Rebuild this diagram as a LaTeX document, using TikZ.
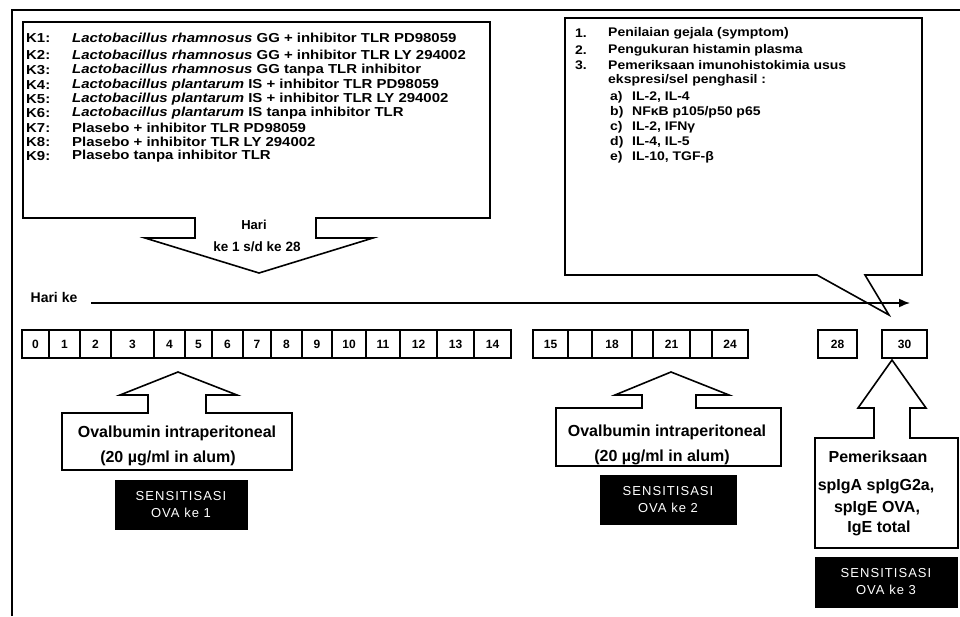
\documentclass[tikz,border=0pt]{standalone}
\usepackage{fontspec}
\setmainfont{Liberation Sans}
\usetikzlibrary{arrows.meta}
\begin{document}
\begin{tikzpicture}[x=1pt,y=-1pt,
  frame/.style={line width=1.6pt,line join=miter},
  listtxt/.style={anchor=west,inner sep=0pt,
    font=\bfseries\fontsize{13}{13}\selectfont\addfontfeature{FakeStretch=1.15}},
  rlisttxt/.style={anchor=west,inner sep=0pt,
    font=\bfseries\fontsize{12.5}{12.5}\selectfont\addfontfeature{FakeStretch=1.12}},
  boxtxt/.style={inner sep=0pt,font=\bfseries\fontsize{16}{16}\selectfont},
  daycell/.style={draw,line width=1.3pt,minimum height=28pt,inner sep=0pt,font=\bfseries\fontsize{12}{12}\selectfont},
  sensbox/.style={fill=black,text=white,align=center,inner sep=0pt,minimum height=50pt,
    font=\fontsize{13}{17}\selectfont\addfontfeature{LetterSpace=8}}]
\useasboundingbox (0,0) rectangle (960,616);
% outer frame
\draw[frame] (12,616) -- (12,10) -- (960,10);
% left callout with the treatment groups
\draw[frame] (23,22) -- (490,22) -- (490,218) -- (316,218) -- (316,238) -- (373,238)
  -- (259,273) -- (145,238) -- (195,238) -- (195,218) -- (23,218) -- cycle;
\foreach \lab/\txt/\y [count=\n] in {
  K1:/{\textit{Lactobacillus rhamnosus} GG + inhibitor TLR PD98059}/38,
  K2:/{\textit{Lactobacillus rhamnosus} GG + inhibitor TLR LY 294002}/55,
  K3:/{\textit{Lactobacillus rhamnosus} GG tanpa TLR inhibitor}/70,
  K4:/{\textit{Lactobacillus plantarum} IS + inhibitor TLR PD98059}/85,
  K5:/{\textit{Lactobacillus plantarum} IS + inhibitor TLR LY 294002}/99,
  K6:/{\textit{Lactobacillus plantarum} IS tanpa inhibitor TLR}/113,
  K7:/{Plasebo + inhibitor TLR PD98059}/128,
  K8:/{Plasebo + inhibitor TLR LY 294002}/142,
  K9:/{Plasebo tanpa inhibitor TLR}/156}{
  \node[listtxt] (klab\n) at (26,\y) {\lab};
  \node[listtxt] (ktxt\n) at (72,\y) {\txt};
}
\node[boxtxt,font=\bfseries\fontsize{13}{13}\selectfont] (hari) at (254,225) {Hari};
\node[boxtxt,font=\bfseries\fontsize{13.5}{13.5}\selectfont] (sampai) at (257,247) {ke 1 s/d ke 28};
% right callout with the examinations
\draw[frame] (565,18) -- (922,18) -- (922,275) -- (865,275) -- (889,315) -- (817,275)
  -- (565,275) -- cycle;
\node[rlisttxt] (n1) at (575,33) {1.};
\node[rlisttxt] (r1) at (608,33) {Penilaian gejala (symptom)};
\node[rlisttxt] (n2) at (575,50) {2.};
\node[rlisttxt] (r2) at (608,50) {Pengukuran histamin plasma};
\node[rlisttxt] (n3) at (575,65) {3.};
\node[rlisttxt] (r3) at (608,65) {Pemeriksaan imunohistokimia usus};
\node[rlisttxt] (r4) at (608,80) {ekspresi/sel penghasil :};
\foreach \lab/\txt/\y in {a)/{IL-2, IL-4}/97, b)/{NFκB p105/p50 p65}/112,
  c)/{IL-2, IFNγ}/127, d)/{IL-4, IL-5}/142, e)/{IL-10, TGF-β}/157}{
  \node[rlisttxt] (sub\lab) at (610,\y) {\lab};
  \node[rlisttxt] (val\lab) at (632,\y) {\txt};
}
% time line
\node[boxtxt,font=\bfseries\fontsize{14}{14}\selectfont] (harike) at (54,297) {Hari ke};
\coordinate (tstart) at (91,303);
\coordinate (tend) at (910,303);
\draw[line width=1.6pt,-{Latex[length=11pt,width=9pt]}] (tstart) -- (tend);
\foreach \a/\b/\t [count=\n] in {22/49/0, 49/80/1, 80/111/2, 111/154/3, 154/185/4,
  185/212/5, 212/243/6, 243/271/7, 271/302/8, 302/332/9, 332/366/10, 366/400/11,
  400/437/12, 437/474/13, 474/511/14, 533/568/15, 568/592/{}, 592/632/18, 632/653/{},
  653/690/21, 690/712/{}, 712/748/24, 818/857/28, 882/927/30}{
  \pgfmathsetmacro\w{\b-\a}
  \pgfmathsetmacro\c{(\a+\b)/2}
  \node[daycell,minimum width=\w pt] (day\n) at (\c,344) {\t};
}
% first sensitisation
\draw[frame] (62,413) -- (148,413) -- (148,395) -- (120,395) -- (178,372) -- (237,395)
  -- (206,395) -- (206,413) -- (292,413) -- (292,470) -- (62,470) -- cycle;
\node[boxtxt] (ova1) at (177,433) {Ovalbumin intraperitoneal};
\node[boxtxt] (dosis1) at (168,458) {(20 µg/ml in alum)};
\node[sensbox,minimum width=133pt] (sens1) at (181,505) {SENSITISASI\\OVA ke 1};
% second sensitisation
\draw[frame] (556,408) -- (642,408) -- (642,395) -- (615,395) -- (671,372) -- (729,395)
  -- (696,395) -- (696,408) -- (781,408) -- (781,466) -- (556,466) -- cycle;
\node[boxtxt] (ova2) at (667,432) {Ovalbumin intraperitoneal};
\node[boxtxt] (dosis2) at (662,457) {(20 µg/ml in alum)};
\node[sensbox,minimum width=137pt] (sens2) at (668,500) {SENSITISASI\\OVA ke 2};
% final examination
\draw[frame] (815,438) -- (874,438) -- (874,408) -- (858,408) -- (892,360) -- (926,408)
  -- (910,408) -- (910,438) -- (958,438) -- (958,548) -- (815,548) -- cycle;
\node[boxtxt] (periksa) at (878,457) {Pemeriksaan};
\node[boxtxt] (igg) at (876,487) {spIgA spIgG2a,};
\node[boxtxt] (ige) at (877,509) {spIgE OVA,};
\node[boxtxt] (igetot) at (879,528) {IgE total};
\node[sensbox,minimum width=143pt,minimum height=51pt] (sens3) at (886,582) {SENSITISASI\\OVA ke 3};
\end{tikzpicture}
\end{document}
